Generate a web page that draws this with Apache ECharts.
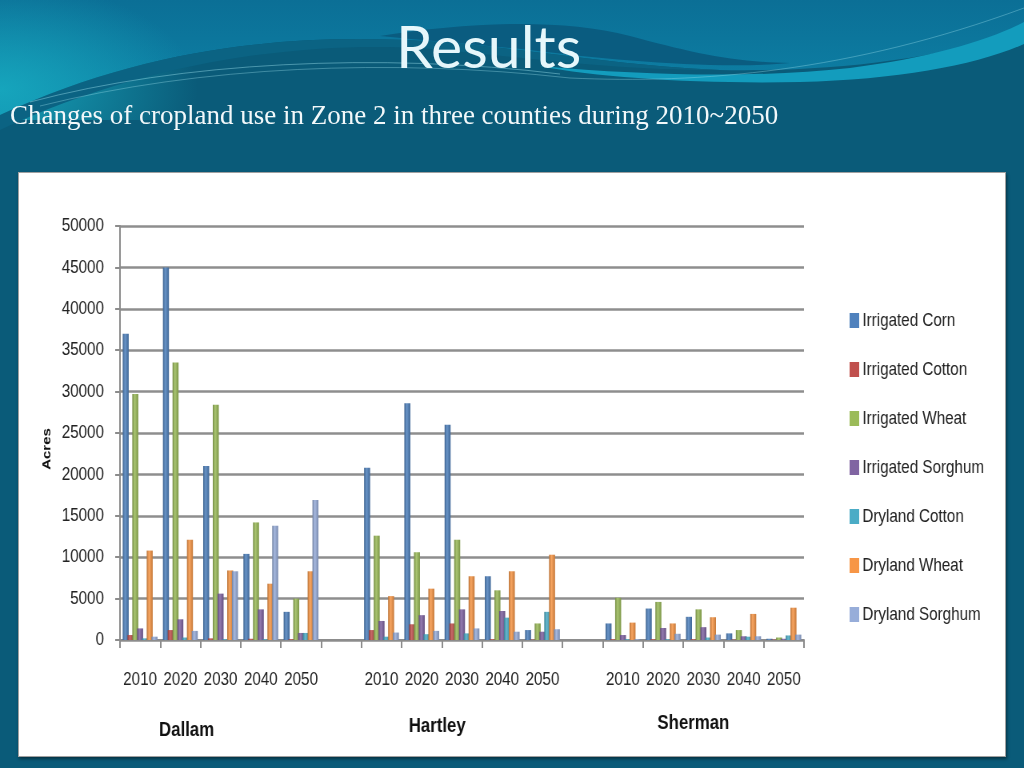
<!DOCTYPE html>
<html><head><meta charset="utf-8">
<script src="https://cdn.jsdelivr.net/npm/echarts@6/dist/echarts.min.js"></script>
<style>
html,body{margin:0;padding:0;width:1024px;height:768px;overflow:hidden;background:#0a5b79;}
#bg{position:absolute;left:0;top:0;}
#box{position:absolute;left:18px;top:172px;width:986px;height:583px;background:#fff;border:1px solid #a0a0a0;box-shadow:1px 2px 3px rgba(0,0,0,0.45);}
#titles{position:absolute;left:0;top:0;width:1024px;height:170px;}
#chart{position:absolute;left:0;top:0;width:1280px;height:768px;transform:scaleX(0.8);transform-origin:0 0;}
</style></head>
<body>
<svg id="bg" width="1024" height="768" xmlns="http://www.w3.org/2000/svg">
<defs>
<linearGradient id="topg" x1="0" y1="0" x2="0" y2="1">
<stop offset="0" stop-color="#0b6f96"/><stop offset="1" stop-color="#0e84a8"/>
</linearGradient>
<radialGradient id="cyan" cx="0" cy="0.75" r="0.9">
<stop offset="0" stop-color="#17a9bf"/><stop offset="1" stop-color="#17a9bf" stop-opacity="0"/>
</radialGradient>
</defs>
<rect x="0" y="0" width="1024" height="768" fill="#0a5b79"/>
<path d="M0,0 H1024 V30 C930,62 820,72 720,70 C620,66 540,50 440,42 C300,32 150,45 0,115 Z" fill="url(#topg)"/>
<path d="M0,0 H220 V120 H0 Z" fill="url(#cyan)" clip-path="none" opacity="0.9"/>
<path d="M0,115 C150,45 300,32 440,42 C540,50 620,66 720,70 C600,70 520,56 420,48 C300,42 150,60 0,130 Z" fill="#0b6383"/>
<path d="M0,113 C150,43 300,30 440,40 L440,0 L0,0 Z" fill="none"/>
<path d="M380,36 C470,22 560,18 630,36 C690,52 730,62 790,63 C720,70 610,60 530,50 C470,44 420,40 380,36 Z" fill="#0a5c80"/>
<path d="M540,66 C650,76 760,78 850,68 C930,58 990,40 1024,22 V44 C980,64 900,80 800,82 C700,84 600,78 540,66 Z" fill="#139cbd"/>
<path d="M30,102 C180,62 380,52 560,74" fill="none" stroke="#9fe3ef" stroke-opacity="0.55" stroke-width="0.8"/>
<path d="M40,106 C200,66 390,58 570,78 C700,84 850,72 1024,8" fill="none" stroke="#9fe3ef" stroke-opacity="0.45" stroke-width="0.8"/>
</svg>
<div id="box"></div>
<div id="titles"></div>
<div id="chart"></div>
<script>
const years = ['2010', '2020', '2030', '2040', '2050'];
const counties = ['Dallam', 'Hartley', 'Sherman'];
const seriesNames = ['Irrigated Corn', 'Irrigated Cotton', 'Irrigated Wheat', 'Irrigated Sorghum', 'Dryland Cotton', 'Dryland Wheat', 'Dryland Sorghum'];
const seriesColors = ['#4F81BD', '#C0504D', '#9BBB59', '#8064A2', '#4BACC6', '#F79646', '#97ADD9'];
// values per series: Dallam 2010..2050, Hartley 2010..2050, Sherman 2010..2050
const irrigatedCorn     = [37000, 45000, 21000, 10400, 3400,  20800, 28600, 26000, 7700, 1200,  2000, 3800, 2800, 800, 150];
const irrigatedCotton   = [600, 1200, 200, 150, 100,  1200, 1900, 2000, 100, 50,  100, 100, 100, 50, 50];
const irrigatedWheat    = [29700, 33500, 28400, 14200, 5000,  12600, 10600, 12100, 6000, 2000,  5100, 4600, 3700, 1200, 300];
const irrigatedSorghum  = [1400, 2500, 5600, 3700, 850,  2300, 3000, 3700, 3500, 1000,  600, 1450, 1550, 450, 150];
const drylandCotton     = [200, 300, 100, 100, 850,  400, 700, 800, 2700, 3400,  100, 100, 300, 400, 550];
const drylandWheat      = [10800, 12100, 8400, 6800, 8300,  5300, 6200, 7700, 8300, 10300,  2100, 2000, 2750, 3150, 3900];
const drylandSorghum    = [400, 1100, 8300, 13800, 16900,  900, 1100, 1400, 1000, 1300,  100, 750, 650, 450, 650];
const seriesValues = [irrigatedCorn, irrigatedCotton, irrigatedWheat, irrigatedSorghum, drylandCotton, drylandWheat, drylandSorghum];
const yTicks = {min: 0, max: 50000, interval: 5000};
const titleText = 'Results';
const subtitleText = 'Changes of cropland use in Zone 2 in three counties during 2010~2050';
const yAxisTitle = 'Acres';

// Build category slots with one empty slot between counties
const categories = [];
const countySlots = [];
counties.forEach((c, ci) => {
  years.forEach((y, yi) => { categories.push(y); countySlots.push(yi === 2 ? c : ''); });
  if (ci < counties.length - 1) { categories.push(''); countySlots.push(''); }
});
function expand(vals) {
  const out = [];
  counties.forEach((c, ci) => {
    for (let i = 0; i < years.length; i++) out.push(vals[ci * years.length + i]);
    if (ci < counties.length - 1) out.push(null);
  });
  return out;
}
function shade(hex, f) {
  const n = parseInt(hex.slice(1), 16);
  let r = n >> 16, g = (n >> 8) & 255, b = n & 255;
  if (f < 0) { r = r * (1 + f); g = g * (1 + f); b = b * (1 + f); }
  else { r = r + (255 - r) * f; g = g + (255 - g) * f; b = b + (255 - b) * f; }
  return 'rgb(' + Math.round(r) + ',' + Math.round(g) + ',' + Math.round(b) + ')';
}

// Titles (unscaled layer)
const titleChart = echarts.init(document.getElementById('titles'));
titleChart.setOption({
  backgroundColor: 'transparent',
  animation: false,
  title: [
    {text: titleText, left: 396, top: 19, padding: 0, textStyle: {fontFamily: 'Lato, "Open Sans", sans-serif', fontSize: 59, fontWeight: 'normal', color: '#e6f7fb'}},
    {text: subtitleText, left: 10, top: 103, padding: 0, textStyle: {fontFamily: '"Liberation Serif", "DejaVu Serif", serif', fontSize: 27, fontWeight: 'normal', color: '#f2f8fa'}}
  ]
});

// Chart layer: drawn 1.25x wider and compressed horizontally (narrow lettering as in the original)
const font = '"Liberation Sans", Arial, sans-serif';
const chart = echarts.init(document.getElementById('chart'));
const countyRich = {
  c0: {fontFamily: font, fontWeight: 'bold', fontSize: 21, color: '#111', padding: [7, 85, 0, 0]},
  c1: {fontFamily: font, fontWeight: 'bold', fontSize: 21, color: '#111', padding: [3, 62, 0, 0]},
  c2: {fontFamily: font, fontWeight: 'bold', fontSize: 21, color: '#111', padding: [0, 25, 0, 0]}
};
chart.setOption({
  backgroundColor: 'transparent',
  animation: false,
  legend: {
    orient: 'vertical', left: 1057, top: 306, itemWidth: 12, itemHeight: 15, itemGap: 30,
    icon: 'rect',
    textStyle: {fontFamily: font, fontSize: 19, color: '#222', padding: [0, 0, 0, -1]},
    data: seriesNames.map((n, i) => ({name: n, itemStyle: {color: seriesColors[i]}}))
  },
  grid: {left: 150, right: 275, top: 226, bottom: 128},
  xAxis: [
    {
      type: 'category', data: categories, boundaryGap: true,
      axisLine: {lineStyle: {color: '#8c8c8c', width: 2}},
      axisTick: {show: true, length: 8, lineStyle: {color: '#8c8c8c', width: 2}, interval: 0},
      axisLabel: {interval: 0, margin: 30, fontFamily: font, fontSize: 19, color: '#222'}
    },
    {
      type: 'category', data: countySlots, position: 'bottom', gridIndex: 0,
      axisLine: {show: false}, axisTick: {show: false}, splitLine: {show: false},
      axisLabel: {
        interval: 0, margin: 73,
        formatter: function (v) { const k = counties.indexOf(v); return k >= 0 ? '{c' + k + '|' + v + '}' : ''; },
        rich: countyRich
      }
    }
  ],
  yAxis: {
    type: 'value', min: yTicks.min, max: yTicks.max, interval: yTicks.interval,
    name: yAxisTitle, nameLocation: 'middle', nameGap: 72, nameRotate: 90,
    nameTextStyle: {fontFamily: font, fontWeight: 'bold', fontSize: 15, color: '#111', padding: [0, 32, 0, 0]},
    axisLine: {show: true, lineStyle: {color: '#8c8c8c', width: 2}},
    axisTick: {show: true, length: 6, lineStyle: {color: '#8c8c8c', width: 2}},
    axisLabel: {margin: 20, fontFamily: font, fontSize: 19, color: '#222', formatter: function (v) { return String(v); }},
    splitLine: {lineStyle: {color: '#8e8e8e', width: 2.5}}
  },
  series: seriesNames.map((n, i) => ({
    name: n, type: 'bar', barWidth: 7.5, barGap: '-20%', barCategoryGap: '10%',
    data: expand(seriesValues[i]),
    itemStyle: {
      color: new echarts.graphic.LinearGradient(0, 0, 1, 0, [
        {offset: 0, color: shade(seriesColors[i], -0.25)},
        {offset: 0.4, color: shade(seriesColors[i], 0.15)},
        {offset: 1, color: shade(seriesColors[i], -0.2)}
      ])
    }
  }))
});
</script>
</body></html>
